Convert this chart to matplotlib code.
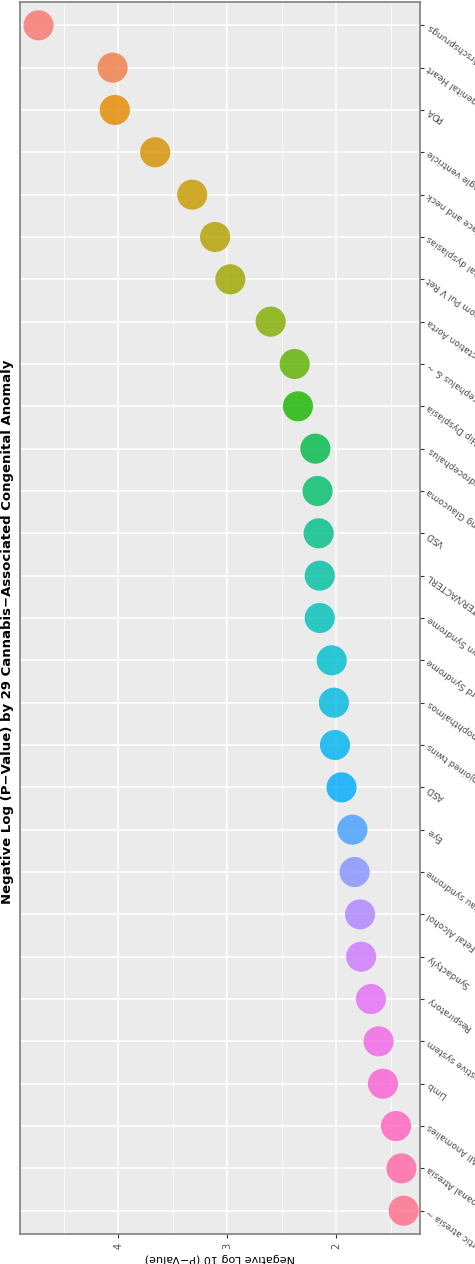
import matplotlib
matplotlib.use("Agg")
import matplotlib.pyplot as plt
import numpy as np

categories = ["Hirschsprungs", "Congenital Heart", "PDA", "Single ventricle", "Ear, face and neck",
              "Skeletal dysplasias", "Tof Anom Pul V Ret", "Coarctation Aorta", "Anencephalus & ~",
              "Hip Dysplasia", "Hydrocephalus", "Cong Glaucoma", "VSD", "VATER/VACTERL",
              "Down Syndrome", "Edward Syndrome", "Anophthalmos", "Conjoined twins", "ASD", "Eye",
              "Patau syndrome", "Fetal Alcohol", "Syndactyly", "Respiratory", "Digestive system",
              "Limb", "All Anomalies", "Choanal Atresia", "Aortic atresia ~"]
values = [4.73, 4.05, 4.03, 3.66, 3.32, 3.11, 2.97, 2.60, 2.38, 2.35, 2.19, 2.17, 2.16, 2.15,
          2.15, 2.04, 2.02, 2.01, 1.95, 1.85, 1.83, 1.78, 1.77, 1.68, 1.61, 1.57, 1.45, 1.40, 1.38]
ticks = [2, 3, 4]

def hcl(h, c=100, l=65):
    h = np.deg2rad(h)
    U, V = c*np.cos(h), c*np.sin(h)
    Xn, Yn, Zn = 95.047, 100.0, 108.883
    un = 4*Xn/(Xn+15*Yn+3*Zn); vn = 9*Yn/(Xn+15*Yn+3*Zn)
    Y = Yn*(((l+16)/116)**3 if l > 8 else l/903.3)
    u = U/(13*l)+un; v = V/(13*l)+vn
    X = 9*Y*u/(4*v); Z = (12-3*u-20*v)*Y/(4*v)
    X, Y, Z = X/100, Y/100, Z/100
    r = 3.2406*X-1.5372*Y-0.4986*Z
    g = -0.9689*X+1.8758*Y+0.0415*Z
    b = 0.0557*X-0.2040*Y+1.0570*Z
    def gam(t):
        t = max(t, 0)
        return min(1, 12.92*t if t <= 0.0031308 else 1.055*t**(1/2.4)-0.055)
    return (gam(r), gam(g), gam(b))

n = len(categories)
hues = np.linspace(15, 375, n+1)[:-1]
colors = [hcl(h) for h in hues]

fig = plt.figure(figsize=(4.75, 12.64), dpi=100)
ax = fig.add_axes([20/475, 1-1234/1264, 400/475, 1232/1264])
ax.set_facecolor("#EBEBEB")
y = np.arange(n)[::-1]
ax.scatter(values, y, s=470, c=colors, alpha=0.82, zorder=3, linewidths=0)
ax.set_xlim(4.9, 1.23)
ax.set_ylim(-0.55, n-0.45)
ax.set_xticks(ticks)
ax.set_xticks([1.5, 2.5, 3.5, 4.5], minor=True)
ax.set_xticklabels([str(t) for t in ticks], rotation=90, fontsize=7, color="#4D4D4D")
ax.set_yticks(y)
ax.set_yticklabels([])
ax.yaxis.tick_right()
tr = ax.get_yaxis_transform()
for yi, lab in zip(y, categories):
    ax.text(1.02, yi, lab, transform=tr, rotation=145, rotation_mode="anchor",
            ha="right", va="center", fontsize=6.5, color="#4D4D4D", clip_on=False)
ax.grid(True, which="major", color="white", lw=1.1)
ax.grid(True, which="minor", axis="x", color="white", lw=0.5)
ax.tick_params(which="minor", length=0)
ax.tick_params(which="major", color="#333333", length=3)
for s in ax.spines.values():
    s.set_color("#7F7F7F"); s.set_linewidth(1.2)
ax.set_axisbelow(True)
ax.set_xlabel("Negative Log 10 (P\u2212Value)", rotation=180, fontsize=8, labelpad=3)
fig.text(8/475, 0.5, "Negative Log (P\u2212Value) by 29 Cannabis\u2212Associated Congenital Anomaly",
         rotation=90, ha="center", va="center", fontsize=9.5, fontweight="bold")
fig.savefig("out.png", dpi=100)
